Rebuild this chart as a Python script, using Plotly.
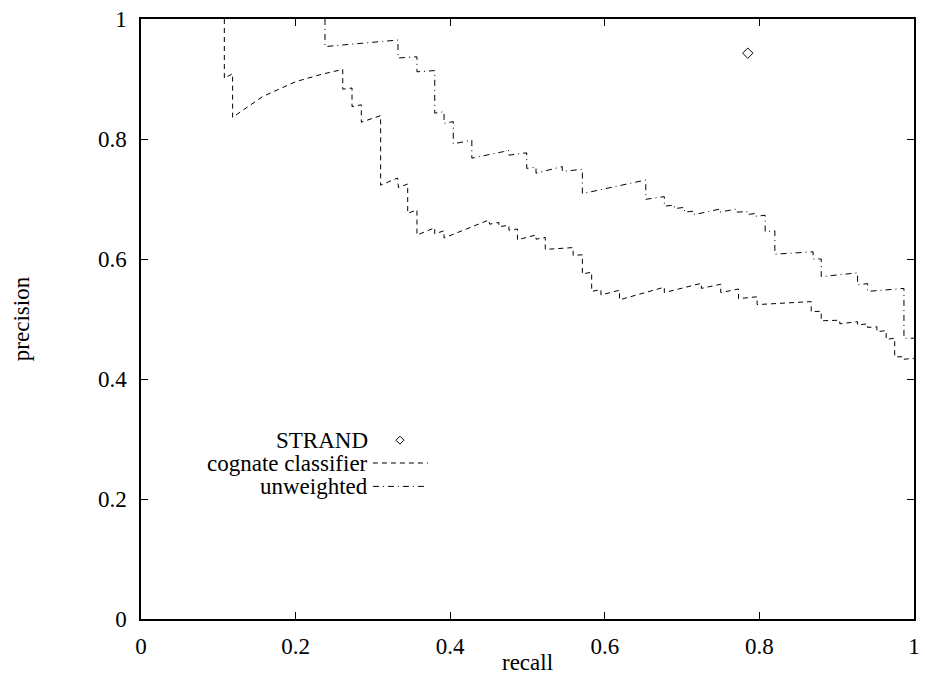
import plotly.graph_objects as go

# ---- data ----
strand_recall = [0.785]
strand_precision = [0.943]

cognate_recall = [
    0.1078, 0.1078, 0.1185, 0.1185, 0.157, 0.200, 0.234, 0.261, 0.261, 0.273,
    0.273, 0.285, 0.285, 0.310, 0.310, 0.332, 0.333, 0.345, 0.345, 0.357,
    0.357, 0.380, 0.380, 0.392, 0.392, 0.450, 0.451, 0.463, 0.463, 0.476,
    0.476, 0.487, 0.487, 0.511, 0.511, 0.523, 0.523, 0.559, 0.559, 0.571,
    0.571, 0.583, 0.583, 0.595, 0.595, 0.619, 0.619, 0.677, 0.677, 0.725,
    0.725, 0.750, 0.750, 0.773, 0.773, 0.797, 0.797, 0.867, 0.867, 0.880,
    0.880, 0.904, 0.904, 0.927, 0.927, 0.940, 0.940, 0.952, 0.952, 0.964,
    0.964, 0.975, 0.975, 0.987, 0.987, 1.000,
]
cognate_precision = [
    1.000, 0.901, 0.909, 0.836, 0.8705, 0.8955, 0.908, 0.916, 0.883, 0.885,
    0.854, 0.857, 0.828, 0.839, 0.723, 0.735, 0.719, 0.725, 0.676, 0.682,
    0.640, 0.652, 0.642, 0.647, 0.635, 0.665, 0.658, 0.661, 0.654, 0.656,
    0.648, 0.650, 0.632, 0.640, 0.633, 0.636, 0.616, 0.619, 0.606, 0.607,
    0.575, 0.578, 0.546, 0.549, 0.540, 0.548, 0.532, 0.553, 0.544, 0.5595,
    0.551, 0.558, 0.544, 0.550, 0.534, 0.537, 0.524, 0.529, 0.512, 0.513,
    0.497, 0.498, 0.492, 0.4955, 0.490, 0.492, 0.486, 0.487, 0.479, 0.4805,
    0.466, 0.468, 0.437, 0.437, 0.433, 0.4345,
]

unweighted_recall = [
    0.238, 0.238, 0.3325, 0.3325, 0.357, 0.357, 0.380, 0.380, 0.392, 0.392,
    0.404, 0.404, 0.428, 0.428, 0.469, 0.476, 0.476, 0.499, 0.499, 0.511,
    0.511, 0.545, 0.545, 0.571, 0.571, 0.653, 0.653, 0.677, 0.677, 0.690,
    0.690, 0.703, 0.703, 0.716, 0.716, 0.748, 0.748, 0.769, 0.769, 0.784,
    0.784, 0.796, 0.796, 0.8075, 0.8075, 0.820, 0.820, 0.8695, 0.8695, 0.880,
    0.880, 0.927, 0.927, 0.940, 0.940, 0.987, 0.987, 1.000,
]
unweighted_precision = [
    1.000, 0.954, 0.965, 0.935, 0.937, 0.912, 0.914, 0.843, 0.8455, 0.826,
    0.829, 0.792, 0.798, 0.768, 0.779, 0.781, 0.773, 0.777, 0.751, 0.753,
    0.743, 0.754, 0.746, 0.7495, 0.709, 0.7317, 0.6995, 0.704, 0.688, 0.690,
    0.684, 0.686, 0.678, 0.680, 0.674, 0.683, 0.678, 0.683, 0.678, 0.679,
    0.674, 0.676, 0.671, 0.673, 0.6455, 0.647, 0.608, 0.612, 0.600, 0.600,
    0.5705, 0.577, 0.557, 0.559, 0.546, 0.551, 0.468, 0.468,
]

x_ticks = [0, 0.2, 0.4, 0.6, 0.8, 1]
x_tick_text = ["0", "0.2", "0.4", "0.6", "0.8", "1"]
y_ticks = [0, 0.2, 0.4, 0.6, 0.8, 1]
y_tick_text = ["0", "0.2", "0.4", "0.6", "0.8", "1"]
legend_labels = ["STRAND", "cognate classifier", "unweighted"]
x_title = "recall"
y_title = "precision"

FONT = "Liberation Serif"
FS = 23

fig = go.Figure()
fig.add_trace(go.Scatter(
    x=cognate_recall, y=cognate_precision, mode="lines",
    line=dict(color="black", width=1, dash="5px,4px"),
    name=legend_labels[1], showlegend=False, hoverinfo="skip"))
fig.add_trace(go.Scatter(
    x=unweighted_recall, y=unweighted_precision, mode="lines",
    line=dict(color="black", width=1, dash="6px,4px,1px,4px"),
    name=legend_labels[2], showlegend=False, hoverinfo="skip"))
fig.add_trace(go.Scatter(
    x=strand_recall, y=strand_precision, mode="markers",
    marker=dict(symbol="diamond-open", size=8, color="black", line=dict(width=1, color="black")),
    name=legend_labels[0], showlegend=False, hoverinfo="skip"))

# ---- hand-made legend (text right-aligned, key to the right) ----
leg_text_x = 0.2965
leg_rows_y = [0.298, 0.260, 0.221]
leg_key_x0, leg_key_x1 = 0.300, 0.371
for label, yy in zip(legend_labels, leg_rows_y):
    fig.add_annotation(x=leg_text_x, y=yy, xref="x", yref="y", text=label,
                       showarrow=False, xanchor="right", yanchor="middle",
                       font=dict(family=FONT, size=FS, color="black"))
fig.add_shape(type="path", xref="x", yref="y", xsizemode="pixel", ysizemode="pixel",
              xanchor=0.335, yanchor=leg_rows_y[0],
              path="M -4 0 L 0 4 L 4 0 L 0 -4 Z",
              line=dict(color="black", width=1))
fig.add_shape(type="line", xref="x", yref="y", x0=leg_key_x0, x1=leg_key_x1,
              y0=leg_rows_y[1], y1=leg_rows_y[1],
              line=dict(color="black", width=1, dash="5px,4px"))
fig.add_shape(type="line", xref="x", yref="y", x0=leg_key_x0, x1=leg_key_x1,
              y0=leg_rows_y[2], y1=leg_rows_y[2],
              line=dict(color="black", width=1, dash="6px,4px,1px,4px"))

# x-axis title placed as an annotation (sits closer to tick labels than a title allows)
fig.add_annotation(x=0.5, y=-0.0717, xref="paper", yref="paper", text=x_title,
                   showarrow=False, xanchor="center", yanchor="middle",
                   font=dict(family=FONT, size=FS, color="black"))

axis_common = dict(
    showgrid=False, zeroline=False, showline=True, linecolor="black", linewidth=1.5,
    mirror="allticks", ticks="inside", ticklen=7, tickwidth=1, tickcolor="black",
    tickfont=dict(family=FONT, size=FS, color="black"),
)
fig.update_xaxes(range=[0, 1], tickvals=x_ticks, ticktext=x_tick_text,
                 ticklabelstandoff=6, **axis_common)
fig.update_yaxes(range=[0, 1], tickvals=y_ticks, ticktext=y_tick_text,
                 title=dict(text=y_title, font=dict(family=FONT, size=FS, color="black"), standoff=62),
                 ticklabelstandoff=8, **axis_common)

fig.update_layout(
    width=925, height=680,
    margin=dict(l=141, r=5, t=19, b=61),
    plot_bgcolor="white", paper_bgcolor="white",
    showlegend=False,
)

fig.write_html("out.html")
